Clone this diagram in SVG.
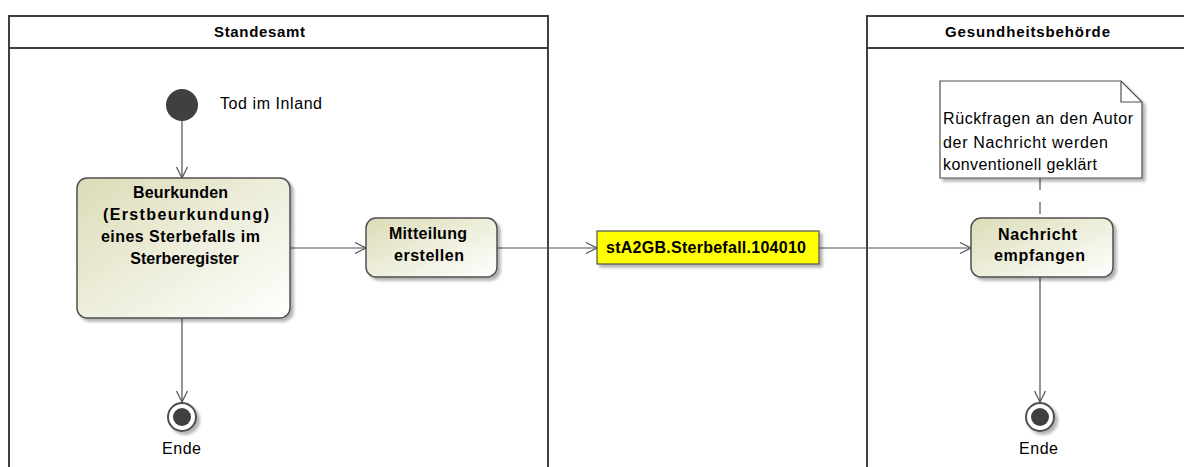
<svg xmlns="http://www.w3.org/2000/svg" width="1184" height="467" viewBox="0 0 1184 467">
<defs>
<linearGradient id="g" x1="0" y1="0" x2="1" y2="1">
<stop offset="0" stop-color="#dcdcb8"/>
<stop offset="1" stop-color="#ffffff"/>
</linearGradient>
<marker id="arr" markerWidth="14" markerHeight="14" refX="12" refY="7" orient="auto" markerUnits="userSpaceOnUse">
<path d="M1,1.5 L12,7 L1,12.5" fill="none" stroke="#505050" stroke-width="1.2"/>
</marker>
<filter id="sh" x="-10%" y="-10%" width="130%" height="130%">
<feDropShadow dx="3" dy="3" stdDeviation="1.5" flood-color="#000" flood-opacity="0.3"/>
</filter>
</defs>
<style>
.lane{fill:none;stroke:#404040;stroke-width:2}
.title{font-family:"Liberation Sans",Arial,sans-serif;font-size:15px;font-weight:bold;fill:#000}
.act{fill:url(#g);stroke:#505050;stroke-width:1.5;filter:url(#sh)}
.t{font-family:"Liberation Sans",Arial,sans-serif;font-size:16px;font-weight:bold;fill:#000}
.n{font-family:"Liberation Sans",Arial,sans-serif;font-size:16px;fill:#000}
.c{fill:none;stroke:#505050;stroke-width:1.2}
</style>
<rect width="1184" height="467" fill="#fff"/>
<g id="lane-standesamt">
<path class="lane" d="M9,470 V16 H548 V470 M9,48 H548"/>
<text class="title" x="214" y="37" textLength="91">Standesamt</text>
</g>
<g id="lane-gesundheitsbehoerde">
<path class="lane" d="M867,470 V16 H1190 M867,48 H1190"/>
<text class="title" x="945" y="37" textLength="165">Gesundheitsbehörde</text>
</g>
<g id="connectors">
<line class="c" x1="182" y1="121" x2="182" y2="178" marker-end="url(#arr)"/>
<line class="c" x1="290" y1="248" x2="366" y2="248" marker-end="url(#arr)"/>
<line class="c" x1="497" y1="248" x2="597" y2="248" marker-end="url(#arr)"/>
<line class="c" x1="819" y1="248" x2="971" y2="248" marker-end="url(#arr)"/>
<line class="c" x1="182" y1="318" x2="182" y2="402" marker-end="url(#arr)"/>
<line class="c" x1="1040" y1="277" x2="1040" y2="402" marker-end="url(#arr)"/>
<line class="c" x1="1040" y1="178" x2="1040" y2="218" stroke-dasharray="12,12"/>
</g>
<g id="start">
<circle cx="182" cy="105" r="16" fill="#404040"/>
<text class="n" x="220" y="109" textLength="102">Tod im Inland</text>
</g>
<g id="beurkunden">
<rect class="act" x="77" y="178" width="213" height="140" rx="10"/>
<text class="t" x="133" y="198" textLength="95">Beurkunden</text>
<text class="t" x="103" y="220" textLength="166">(Erstbeurkundung)</text>
<text class="t" x="101" y="242" textLength="159">eines Sterbefalls im</text>
<text class="t" x="184.5" y="264" text-anchor="middle">Sterberegister</text>
</g>
<g id="mitteilung">
<rect class="act" x="366" y="218" width="131" height="59" rx="10"/>
<text class="t" x="389" y="239" textLength="78">Mitteilung</text>
<text class="t" x="394" y="261" textLength="70">erstellen</text>
</g>
<g id="message">
<rect x="597" y="231" width="222" height="33" fill="#ffff00" stroke="#505050" stroke-width="1.2" filter="url(#sh)"/>
<text class="t" x="606" y="253" textLength="200">stA2GB.Sterbefall.104010</text>
</g>
<g id="nachricht">
<rect class="act" x="971" y="218" width="142" height="59" rx="10"/>
<text class="t" x="998" y="240" textLength="79">Nachricht</text>
<text class="t" x="994" y="261" textLength="91">empfangen</text>
</g>
<g id="note">
<path d="M940,81 H1121 L1142,102 V178 H940 Z" fill="#fff" stroke="#505050" stroke-width="1.2" filter="url(#sh)"/>
<path d="M1121,81 V102 H1142" fill="none" stroke="#505050" stroke-width="1.2"/>
<text class="n" x="943" y="124" textLength="190">Rückfragen an den Autor</text>
<text class="n" x="943" y="148" textLength="165">der Nachricht werden</text>
<text class="n" x="943" y="170" textLength="154">konventionell geklärt</text>
</g>
<g id="end-left">
<circle cx="182" cy="417" r="14" fill="#fff" stroke="#505050" stroke-width="2" filter="url(#sh)"/>
<circle cx="182" cy="417" r="9" fill="#404040"/>
<text class="n" x="162" y="454" textLength="39">Ende</text>
</g>
<g id="end-right">
<circle cx="1040" cy="417" r="14" fill="#fff" stroke="#505050" stroke-width="2" filter="url(#sh)"/>
<circle cx="1040" cy="417" r="9" fill="#404040"/>
<text class="n" x="1019" y="454" textLength="39">Ende</text>
</g>
</svg>
